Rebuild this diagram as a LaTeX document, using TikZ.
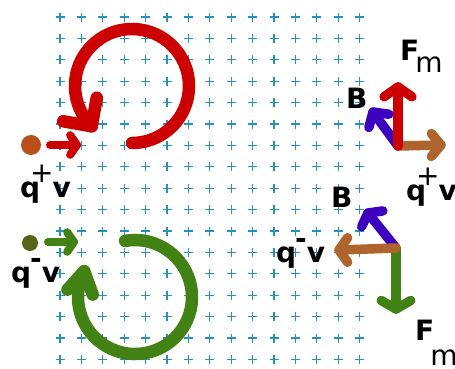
\documentclass[tikz,border=0pt]{standalone}
\usepackage{fontspec}
\setmainfont{DejaVu Sans}
\usetikzlibrary{positioning}
\definecolor{grid-blue}{RGB}{40,145,185}
\definecolor{force-red}{RGB}{204,0,0}
\definecolor{force-green}{RGB}{66,130,20}
\definecolor{field-blue}{RGB}{60,0,190}
\definecolor{speed-brown}{RGB}{175,100,45}
\definecolor{dot-orange}{RGB}{185,80,25}
\definecolor{dot-green}{RGB}{85,100,25}

\begin{document}
\begin{tikzpicture}[x=1pt, y=1pt]
        \tikzset{ lbl/.style ={inner sep=0pt, anchor=base west, font=\fontsize{28}{30}\selectfont\bfseries, text=black} }
        \tikzset{ plus/.style ={draw=grid-blue, line width=1.1pt} }
        \tikzset{ swirl/.style ={line width=12.5pt, line cap=round, line join=round} }
        \tikzset{ vec/.style ={line width=9.5pt, line cap=round, line join=round} }
        \tikzset{ kick/.style ={line width=8pt, line cap=round, line join=round} }

        \newcommand\barb[5]{\draw[#1] (#2) ++(#3:#5) -- (#2) -- ++(#4:#5);}
        \newcommand\qsign[2]{q\kern-10pt\raisebox{#2}{\mdseries #1}\kern-1pt v}
        \newcommand\fsub[1]{F\kern-4pt\raisebox{#1}{\mdseries m}}

        \useasboundingbox (0,0) rectangle (455,368);

        % field into the page
        \foreach \i in {0,...,14}
          \foreach \j in {0,...,16}
            \draw[plus] (60+21.4*\i, 351-21.4*\j) ++(-4.5,0) -- ++(9,0) ++(-4.5,-4.5) -- ++(0,9);

        % positive charge
        \node[circle, fill=dot-orange, minimum size=20pt, inner sep=0pt] (qp) at (31,223) {};
        \coordinate (qp_go) at (50,223);
        \coordinate (qp_to) at (77,223);
        \draw[kick, force-red] (qp_go) -- (qp_to);
        \barb{kick, force-red}{qp_to}{125}{235}{12}
        \node[lbl] (qp_lbl) at (20,171) {\qsign{+}{15pt}};
        \coordinate (red_start) at (132,225);
        \coordinate (red_end) at (91.7,241.7);
        \draw[swirl, force-red] (red_start) arc[start angle=-90, end angle=225, radius=57];
        \barb{swirl, force-red}{red_end}{170}{80}{29}

        % negative charge
        \node[circle, fill=dot-green, minimum size=16pt, inner sep=0pt] (qn) at (30,125) {};
        \coordinate (qn_go) at (48,126);
        \coordinate (qn_to) at (74,126);
        \draw[kick, force-green] (qn_go) -- (qn_to);
        \barb{kick, force-green}{qn_to}{125}{235}{12}
        \node[lbl] (qn_lbl) at (11,86) {q\kern-1pt\raisebox{13.5pt}{-}v};
        \coordinate (green_start) at (125.1,127.1);
        \coordinate (green_end) at (84.2,96.9);
        \draw[swirl, force-green] (green_start) arc[start angle=100, end angle=-207, radius=57];
        \barb{swirl, force-green}{green_end}{228}{290}{25}

        % vectors for q+
        \coordinate (o_top) at (398,222);
        \coordinate (b_top) at (373,256);
        \coordinate (v_top) at (441,223);
        \coordinate (f_top) at (398,281);
        \draw[vec, field-blue] (o_top) -- (b_top);
        \barb{vec, field-blue}{b_top}{255}{352}{16}
        \draw[vec, speed-brown] (o_top) -- (v_top);
        \barb{vec, speed-brown}{v_top}{130}{230}{15}
        \draw[vec, force-red] (o_top) -- (f_top);
        \barb{vec, force-red}{f_top}{215}{325}{17}
        \node[lbl] (b_top_lbl) at (346,260) {B};
        \node[lbl] (f_top_lbl) at (400,308) {\fsub{-12pt}};
        \node[lbl] (v_top_lbl) at (406,168) {\qsign{+}{15pt}};

        % vectors for q-
        \coordinate (o_bot) at (396,120);
        \coordinate (b_bot) at (368,155);
        \coordinate (v_bot) at (339,118);
        \coordinate (f_bot) at (396,59);
        \draw[vec, field-blue] (o_bot) -- (b_bot);
        \barb{vec, field-blue}{b_bot}{245}{8}{15}
        \draw[vec, force-green] (o_bot) -- (f_bot);
        \barb{vec, force-green}{f_bot}{150}{30}{17}
        \draw[vec, speed-brown] (o_bot) -- (v_bot);
        \barb{vec, speed-brown}{v_bot}{55}{-55}{15}
        \node[lbl] (b_bot_lbl) at (331,161) {B};
        \node[lbl] (v_bot_lbl) at (276,106) {q\kern-1pt\raisebox{13.5pt}{-}v};
        \node[lbl] (f_bot_lbl) at (415,28) {\fsub{-25pt}};
      \end{tikzpicture}
\end{document}
